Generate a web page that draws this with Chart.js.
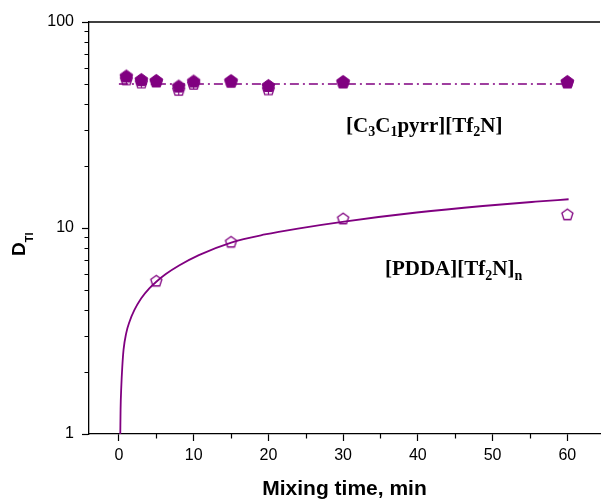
<!DOCTYPE html>
<html><head><meta charset="utf-8">
<script src="https://cdn.jsdelivr.net/npm/chart.js@4.4.1/dist/chart.umd.min.js"></script>
<style>html,body{margin:0;padding:0;background:#fff;overflow:hidden}#wrap{width:605px;height:502px;position:relative}</style>
</head><body><div id="wrap"><canvas id="c"></canvas></div>
<script>
// ---- data ----
const xUpper = [1, 3, 5, 8, 10, 15, 20, 30, 60];
const upperFilled = [54.7, 52.6, 52.0, 48.9, 51.7, 52.0, 49.2, 51.4, 51.4];
const upperOpen   = [52.9, 51.1, 51.7, 47.0, 50.3, 51.4, 47.3, 51.1, 51.1];
const xLower = [5, 15, 30, 60];
const lowerVals = [5.55, 8.58, 11.14, 11.66];
const upperFitX = [0, 60];
const upperFitY = [50, 50];
const lowerFitX = [0.186, 0.225, 0.32, 0.45, 0.62, 0.98, 1.42, 2.08, 2.97, 4.07, 5.04, 6.28, 8.05, 10.7, 15.03, 19.54, 23.95, 30.14, 39.85, 48.69, 55.76, 60.17];
const lowerFitY = [1.0, 1.31, 1.69, 2.11, 2.56, 3.09, 3.51, 4.0, 4.55, 5.09, 5.50, 5.98, 6.58, 7.39, 8.50, 9.30, 9.94, 10.75, 11.89, 12.79, 13.42, 13.79];
const xTickVals = [0, 10, 20, 30, 40, 50, 60];
const xMinorTicks = [5, 15, 25, 35, 45, 55];
const yTickVals = [1, 10, 100];
const yMinorTicks = [2, 3, 4, 5, 6, 7, 8, 9, 20, 30, 40, 50, 60, 70, 80, 90];
const xLabel = 'Mixing time, min';
const label1 = [['[C', 0], ['3', 1], ['C', 0], ['1', 1], ['pyrr][Tf', 0], ['2', 1], ['N]', 0]];
const label2 = [['[PDDA][Tf', 0], ['2', 1], ['N]', 0], ['n', 1]];

const PURPLE = '#800080';
const pts = (xs, ys) => xs.map((x, i) => ({x: x, y: ys[i]}));

function pentPath(g, cx, cy, r) {
  g.beginPath();
  for (let i = 0; i < 5; i++) {
    const a = -Math.PI / 2 + i * 2 * Math.PI / 5;
    const px = cx + r * Math.cos(a), py = cy + r * Math.sin(a);
    if (i) g.lineTo(px, py); else g.moveTo(px, py);
  }
  g.closePath();
}
function marker(kind) {
  const s = 17, c = document.createElement('canvas');
  c.width = s; c.height = s;
  const g = c.getContext('2d');
  const cx = s / 2;
  if (kind === 'filled') {
    const r = 6.7, cy = s / 2 + 0.095 * r;
    pentPath(g, cx, cy, r);
    g.fillStyle = PURPLE; g.fill();
    g.strokeStyle = PURPLE; g.lineWidth = 1; g.stroke();
  } else if (kind === 'cross') {
    const r = 6.2, cy = s / 2 + 0.095 * r;
    pentPath(g, cx, cy, r);
    g.strokeStyle = PURPLE; g.lineWidth = 1.3; g.stroke();
    g.beginPath();
    g.moveTo(cx - r * 0.8, cy + 0.5); g.lineTo(cx + r * 0.8, cy + 0.5);
    g.moveTo(cx, cy - r * 0.3); g.lineTo(cx, cy + r * 0.8);
    g.lineWidth = 1.1; g.stroke();
  } else {
    const r = 5.8, cy = s / 2 + 0.095 * r;
    pentPath(g, cx, cy, r);
    g.strokeStyle = PURPLE; g.lineWidth = 1.3; g.stroke();
  }
  return c;
}

function drawRich(ctx, segs, x, y, size, subSize, subDrop) {
  let cx = x;
  ctx.textBaseline = 'alphabetic';
  ctx.textAlign = 'left';
  for (const [t, sub] of segs) {
    ctx.font = 'bold ' + (sub ? subSize : size) + 'px "Liberation Serif", "Times New Roman", serif';
    ctx.fillText(t, cx, sub ? y + subDrop : y);
    cx += ctx.measureText(t).width;
  }
}

const decor = {
  id: 'decor',
  afterDraw(chart) {
    const ctx = chart.ctx, xs = chart.scales.x, ys = chart.scales.y, a = chart.chartArea;
    ctx.save();
    ctx.strokeStyle = '#000';
    ctx.lineWidth = 1.3;
    // top frame line
    ctx.beginPath(); ctx.moveTo(a.left - 0.5, a.top); ctx.lineTo(a.right, a.top); ctx.stroke();
    // minor ticks
    ctx.lineWidth = 1.2;
    ctx.beginPath();
    for (const v of yMinorTicks) {
      const py = Math.round(ys.getPixelForValue(v)) + 0.5;
      ctx.moveTo(a.left, py); ctx.lineTo(a.left - 4.5, py);
    }
    for (const v of xMinorTicks) {
      const px = Math.round(xs.getPixelForValue(v)) + 0.5;
      ctx.moveTo(px, a.bottom); ctx.lineTo(px, a.bottom + 4.5);
    }
    ctx.stroke();
    // annotations
    ctx.fillStyle = '#000';
    drawRich(ctx, label1, xs.getPixelForValue(30.4), ys.getPixelForValue(29.3), 21, 14, 4.5);
    drawRich(ctx, label2, xs.getPixelForValue(35.6), ys.getPixelForValue(5.91), 21, 14, 4.5);
    // y title D_TI
    ctx.translate(25, 256);
    ctx.rotate(-Math.PI / 2);
    ctx.textAlign = 'left'; ctx.textBaseline = 'alphabetic';
    ctx.font = 'bold 19px "Liberation Sans", Arial, sans-serif';
    ctx.fillText('D', 0, 0);
    const w = ctx.measureText('D').width;
    ctx.font = 'bold 11px "Liberation Sans", Arial, sans-serif';
    ctx.fillText('TI', w, 8);
    ctx.restore();
  }
};

new Chart(document.getElementById('c'), {
  type: 'scatter',
  data: {
    datasets: [
      {data: pts(lowerFitX, lowerFitY), showLine: true, borderColor: PURPLE, borderWidth: 1.8, pointRadius: 0, cubicInterpolationMode: 'monotone', order: 5},
      {data: pts(upperFitX, upperFitY), showLine: true, borderColor: PURPLE, borderWidth: 1.6, borderDash: [9, 4, 2, 4], pointRadius: 0, order: 4},
      {data: pts(xUpper, upperOpen), showLine: false, pointStyle: marker('cross'), order: 3},
      {data: pts(xUpper, upperFilled), showLine: false, pointStyle: marker('filled'), order: 2},
      {data: pts(xLower, lowerVals), showLine: false, pointStyle: marker('open'), order: 1}
    ]
  },
  options: {
    responsive: true, maintainAspectRatio: false, animation: false,
    layout: {padding: {top: 22, right: 0, left: 0, bottom: 0}},
    plugins: {legend: {display: false}, tooltip: {enabled: false}},
    scales: {
      x: {
        type: 'linear', min: -4, max: 64.37,
        afterBuildTicks: s => { s.ticks = xTickVals.map(v => ({value: v})); },
        afterFit: s => { s.height = 68; },
        grid: {drawOnChartArea: false, drawTicks: true, tickLength: 7, color: '#000', tickWidth: 1.2},
        border: {display: true, color: '#000', width: 1.3},
        ticks: {color: '#000', padding: 5, maxRotation: 0, autoSkip: false, font: {family: '"Liberation Sans", Arial, sans-serif', size: 16}},
        title: {display: true, text: xLabel, color: '#000', padding: {top: 0, bottom: 0}, font: {family: '"Liberation Sans", Arial, sans-serif', size: 21, weight: 'bold'}}
      },
      y: {
        type: 'logarithmic', min: 1, max: 100,
        afterBuildTicks: s => { s.ticks = yTickVals.map(v => ({value: v})); },
        afterFit: s => { s.width = 89; },
        grid: {drawOnChartArea: false, drawTicks: true, tickLength: 7, color: '#000', tickWidth: 1.2},
        border: {display: true, color: '#000', width: 1.3},
        ticks: {color: '#000', padding: 8, autoSkip: false, callback: v => String(v), font: {family: '"Liberation Sans", Arial, sans-serif', size: 16}}
      }
    }
  },
  plugins: [decor]
});
</script></body></html>
